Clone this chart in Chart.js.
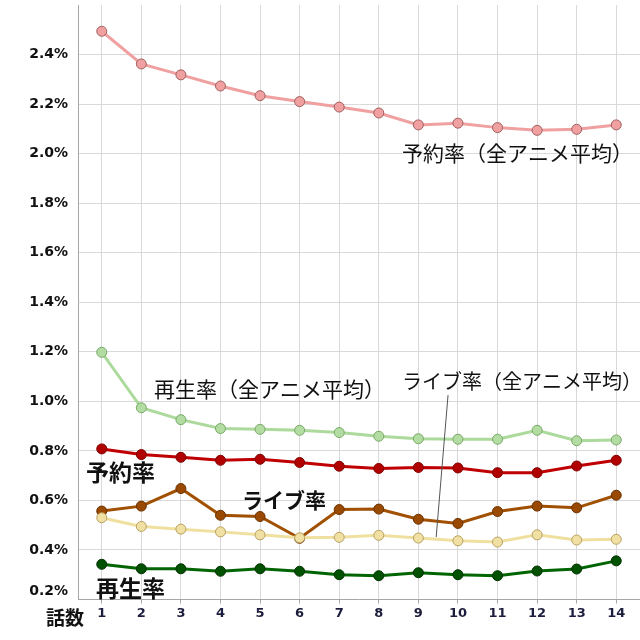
<!DOCTYPE html>
<html>
<head>
<meta charset="utf-8">
<script src="https://cdn.jsdelivr.net/npm/chart.js@4"></script>
<style>
html,body{margin:0;padding:0;background:#fff;}
#wrap{width:640px;height:640px;position:relative;}
</style>
</head>
<body>
<div id="wrap"><canvas id="c" width="640" height="640"></canvas></div>
<script>
const episodes = [1,2,3,4,5,6,7,8,9,10,11,12,13,14];
const yTicks = [0.2,0.4,0.6,0.8,1.0,1.2,1.4,1.6,1.8,2.0,2.2,2.4];
const reserveAll = [2.494,2.362,2.318,2.273,2.234,2.210,2.188,2.164,2.116,2.123,2.105,2.094,2.098,2.116];
const playAll = [1.198,0.974,0.926,0.890,0.887,0.883,0.874,0.859,0.849,0.847,0.847,0.883,0.841,0.844];
const reserve = [0.808,0.785,0.774,0.762,0.766,0.753,0.738,0.729,0.733,0.731,0.712,0.712,0.739,0.762];
const live = [0.557,0.577,0.648,0.540,0.535,0.447,0.563,0.565,0.524,0.507,0.555,0.577,0.570,0.621];
const liveAll = [0.530,0.495,0.484,0.473,0.461,0.449,0.451,0.459,0.448,0.437,0.432,0.461,0.440,0.443];
const play = [0.342,0.324,0.324,0.314,0.324,0.314,0.300,0.296,0.308,0.300,0.296,0.315,0.323,0.356];

const xAxisTitle = '話数';
const labels = [
  {text:'予約率（全アニメ平均）', x:402, y:153, bold:false, size:21},
  {text:'再生率（全アニメ平均）', x:154, y:389, bold:false, size:21},
  {text:'ライブ率（全アニメ平均）', x:402, y:381, bold:false, size:20},
  {text:'予約率', x:86, y:472, bold:true, size:23},
  {text:'ライブ率', x:242, y:500, bold:true, size:21},
  {text:'再生率', x:96, y:588, bold:true, size:23}
];

function mk(label, data, line, fill, border){
  return {
    label, data: data.map((v,i)=>({x:episodes[i], y:v})),
    borderColor: line, backgroundColor: fill,
    pointBackgroundColor: fill, pointBorderColor: border,
    pointBorderWidth: 1, pointRadius: 5, borderWidth: 3,
    tension: 0, fill: false, clip: false
  };
}

const annot = {
  id: 'annot',
  afterDraw(chart){
    const ctx = chart.ctx;
    ctx.save();
    const xs = chart.scales.x, ys = chart.scales.y;
    ctx.strokeStyle = '#555';
    ctx.lineWidth = 1;
    ctx.beginPath();
    ctx.moveTo(xs.getPixelForValue(9.75), 395);
    ctx.lineTo(xs.getPixelForValue(9.45), ys.getPixelForValue(0.452));
    ctx.stroke();
    ctx.textBaseline = 'middle';
    ctx.textAlign = 'left';
    for (const l of labels){
      ctx.fillStyle = '#111';
      ctx.font = (l.bold?'bold ':'') + l.size + 'px "Noto Sans CJK JP"';
      ctx.fillText(l.text, l.x, l.y);
    }
    ctx.font = 'bold 19px "Noto Sans CJK JP"';
    ctx.fillText(xAxisTitle, 46, 618);
    ctx.restore();
  }
};

new Chart(document.getElementById('c'), {
  type: 'line',
  data: {
    datasets: [
      mk('予約率（全アニメ平均）', reserveAll, '#f0a0a0', '#f0a0a0', '#a06060'),
      mk('再生率（全アニメ平均）', playAll, '#acd99c', '#b2dca2', '#78a868'),
      mk('ライブ率（全アニメ平均）', liveAll, '#f0e0a0', '#f0e0a4', '#b8a060'),
      mk('ライブ率', live, '#a05000', '#9a4a00', '#6a3000'),
      mk('予約率', reserve, '#c00000', '#b00000', '#800000'),
      mk('再生率', play, '#006400', '#005200', '#003000')
    ]
  },
  options: {
    responsive: false,
    animation: false,
    layout: {autoPadding: false, padding: {top: 5, right: 0, bottom: 0, left: 0}},
    plugins: {legend: {display: false}, tooltip: {enabled: false}},
    scales: {
      x: {
        type: 'linear', min: 0.4, max: 14.6,
        afterBuildTicks(s){ s.ticks = episodes.map(v=>({value:v})); },
        afterFit(s){ s.height = 40.5; s.paddingLeft = 0; s.paddingRight = 0; },
        border: {display: true, color: '#a6a6a6', width: 1},
        grid: {color: '#d9d9d9', lineWidth: 1, drawTicks: true, tickLength: 4, tickColor: '#a6a6a6'},
        ticks: {
          color: '#1c1c3c', font: {family: '"DejaVu Sans"', size: 13, weight: 'bold'},
          padding: 2, maxRotation: 0, autoSkip: false,
          callback: v => String(v)
        }
      },
      y: {
        min: 0.2, max: 2.6,
        afterBuildTicks(s){ s.ticks = yTicks.map(v=>({value:v})); },
        afterFit(s){ s.width = 78; s.paddingTop = 0; s.paddingBottom = 0; },
        border: {display: true, color: '#a6a6a6', width: 1},
        grid: {color: '#d9d9d9', lineWidth: 1, drawTicks: false},
        ticks: {
          color: '#111', font: {family: '"DejaVu Sans"', size: 14, weight: 'bold'},
          padding: 10,
          callback: v => {
            const s = v.toFixed(1) + '%';
            return v < 0.3 ? [s, ''] : s;
          }
        }
      }
    }
  },
  plugins: [annot]
});
</script>
</body>
</html>
